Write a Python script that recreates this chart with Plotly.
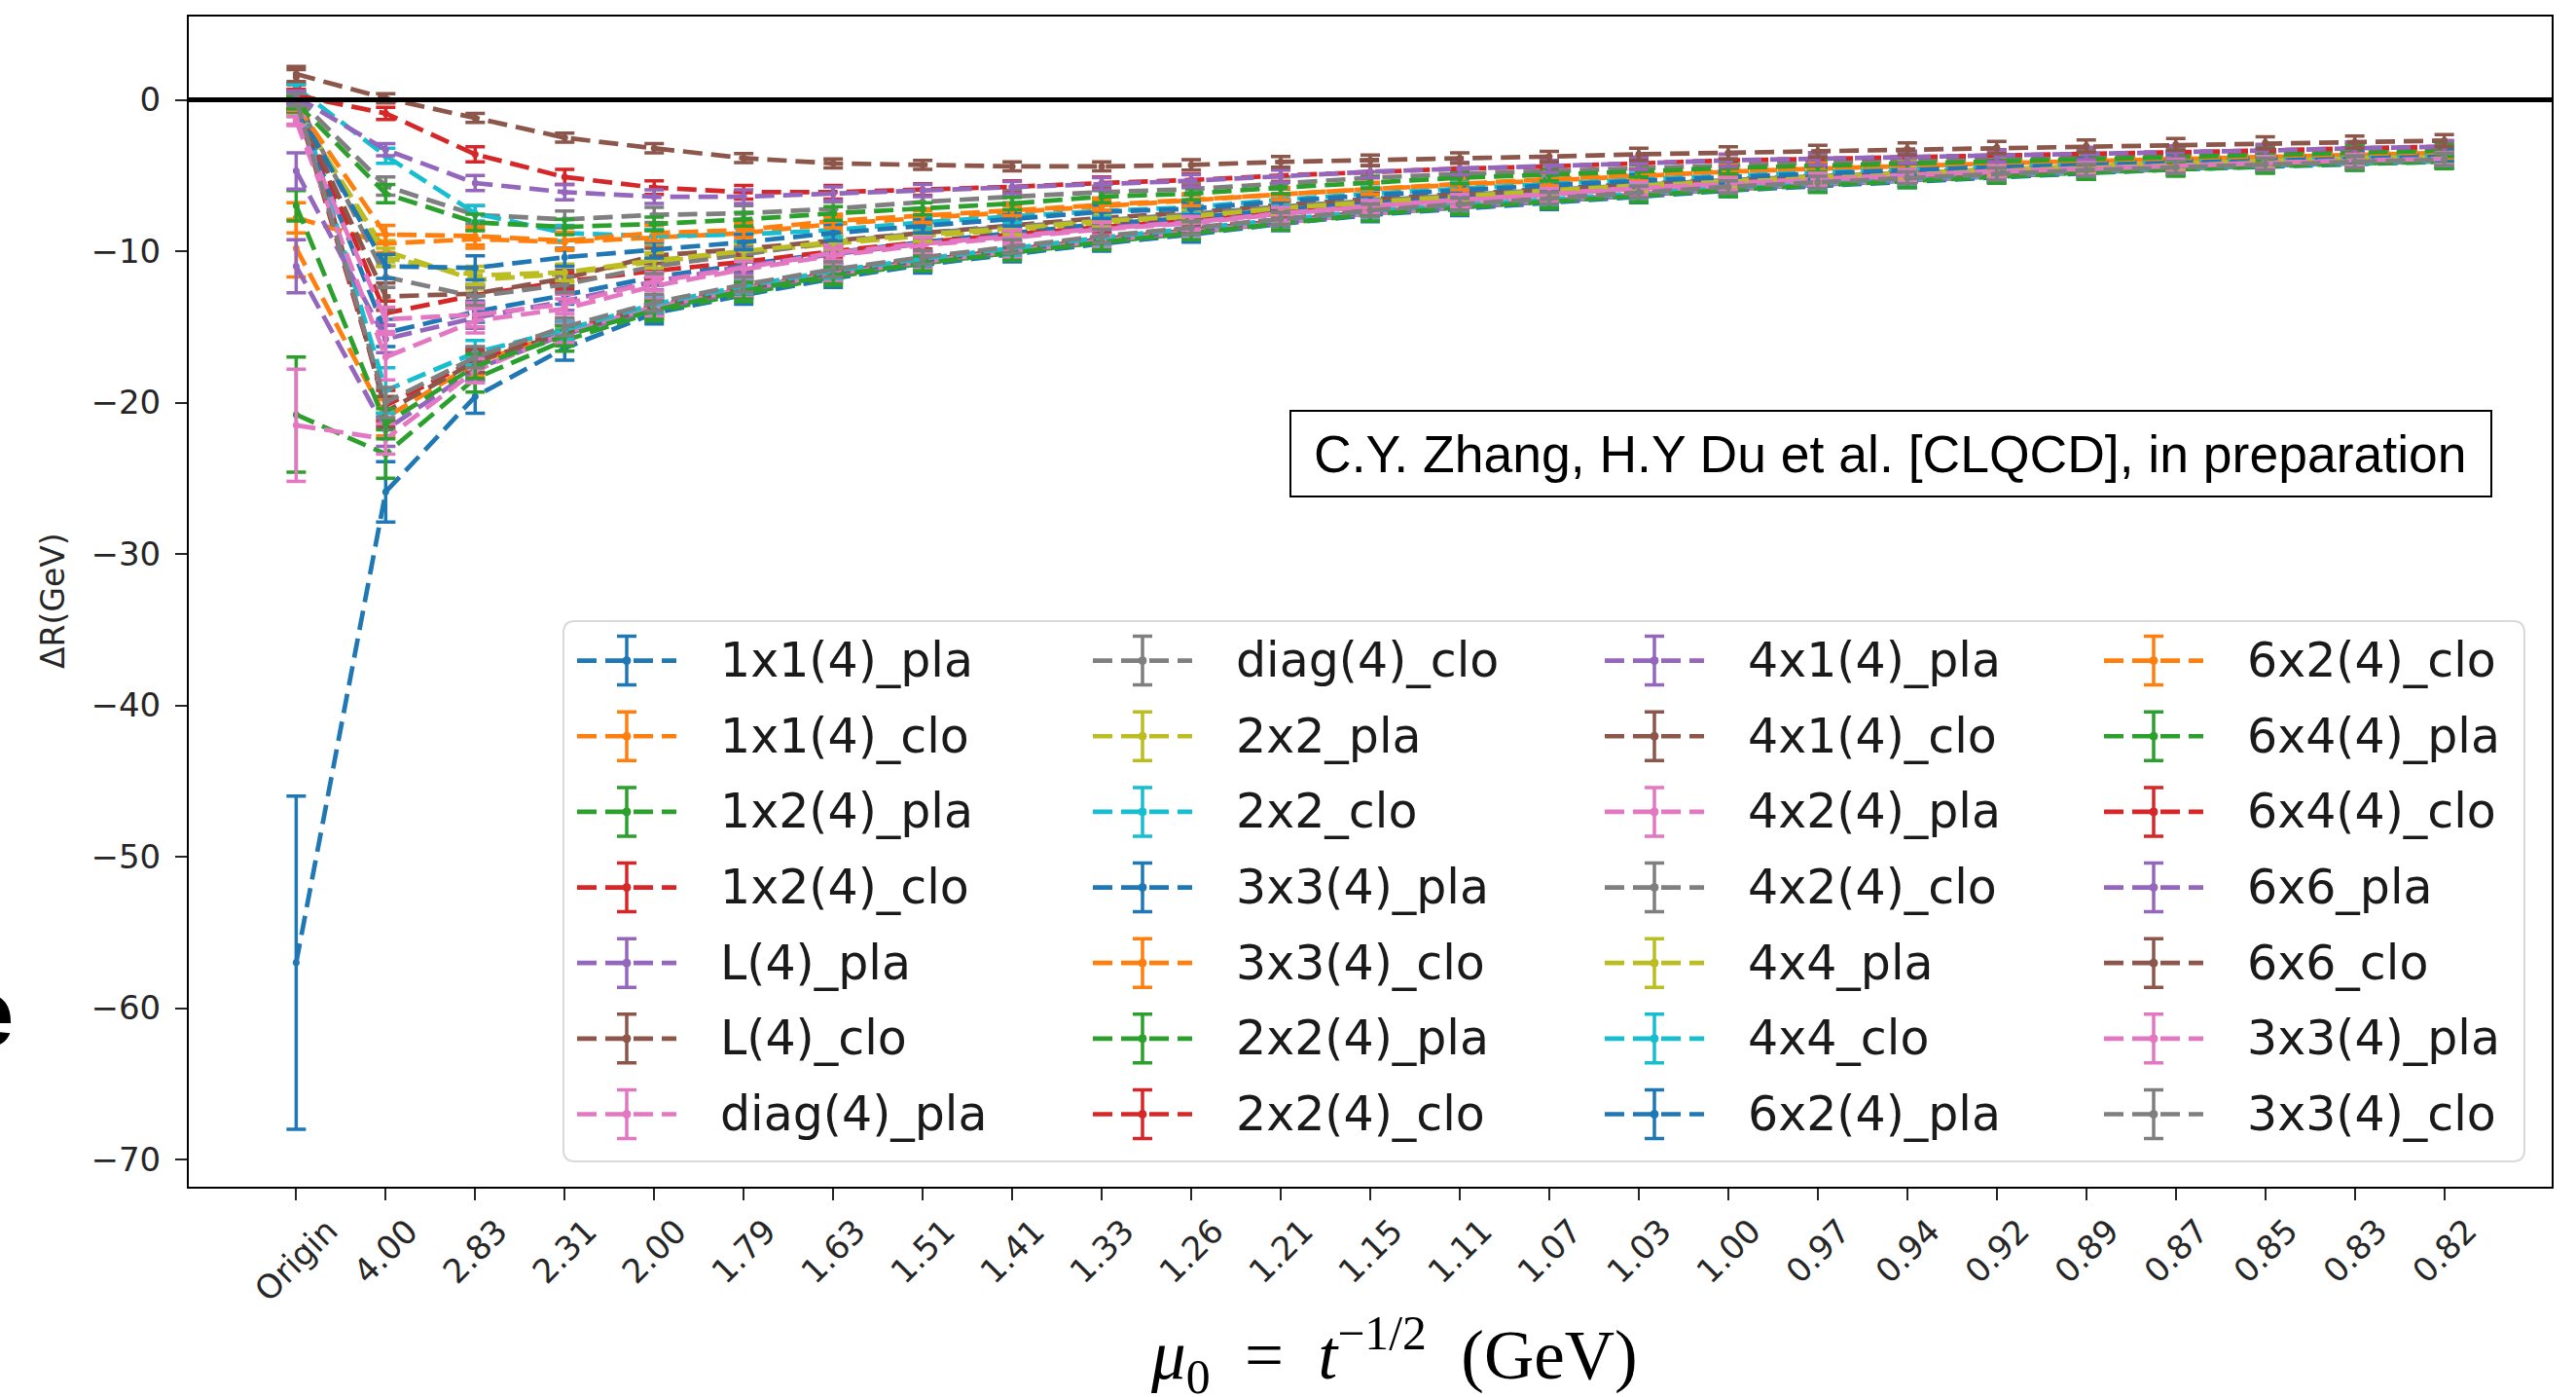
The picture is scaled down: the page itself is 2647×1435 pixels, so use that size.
import plotly.graph_objects as go

# ---------------------------------------------------------------- data
MU0_LABELS = ["Origin", "4.00", "2.83", "2.31", "2.00", "1.79", "1.63", "1.51",
              "1.41", "1.33", "1.26", "1.21", "1.15", "1.11", "1.07", "1.03",
              "1.00", "0.97", "0.94", "0.92", "0.89", "0.87", "0.85", "0.83", "0.82"]

SERIES_NAMES = ["1x1(4)_pla", "1x1(4)_clo", "1x2(4)_pla", "1x2(4)_clo", "L(4)_pla",
                "L(4)_clo", "diag(4)_pla", "diag(4)_clo", "2x2_pla", "2x2_clo",
                "3x3(4)_pla", "3x3(4)_clo", "2x2(4)_pla", "2x2(4)_clo", "4x1(4)_pla",
                "4x1(4)_clo", "4x2(4)_pla", "4x2(4)_clo", "4x4_pla", "4x4_clo",
                "6x2(4)_pla", "6x2(4)_clo", "6x4(4)_pla", "6x4(4)_clo", "6x6_pla",
                "6x6_clo", "3x3(4)_pla", "3x3(4)_clo"]

# Delta R (GeV) per flow scale, and its uncertainty
r_1x1_4_pla = [-57.0, -25.9, -19.6, -16.4, -14.1, -12.9, -11.8, -10.9, -10.2, -9.5, -8.9, -8.2, -7.6, -7.2, -6.8, -6.4, -6.0, -5.7, -5.4, -5.1, -4.85, -4.6, -4.4, -4.25, -4.1]
e_1x1_4_pla = [11.0, 2.0, 1.1, 0.8, 0.7, 0.6, 0.6, 0.55, 0.5, 0.5, 0.5, 0.45, 0.45, 0.45, 0.45, 0.4, 0.4, 0.4, 0.4, 0.4, 0.4, 0.4, 0.4, 0.4, 0.4]
r_1x1_4_clo = [-9.8, -21.0, -17.4, -15.3, -13.6, -12.4, -11.4, -10.6, -9.9, -9.2, -8.6, -8.0, -7.4, -7.0, -6.6, -6.2, -5.85, -5.55, -5.25, -5.0, -4.75, -4.5, -4.3, -4.15, -4.0]
e_1x1_4_clo = [1.9, 1.2, 0.8, 0.65, 0.6, 0.55, 0.5, 0.5, 0.45, 0.45, 0.45, 0.45, 0.4, 0.4, 0.4, 0.4, 0.4, 0.4, 0.4, 0.4, 0.4, 0.4, 0.4, 0.4, 0.4]
r_1x2_4_pla = [-20.8, -23.4, -18.4, -15.9, -14.0, -12.8, -11.7, -10.8, -10.1, -9.4, -8.8, -8.1, -7.5, -7.1, -6.7, -6.3, -5.9, -5.6, -5.3, -5.05, -4.8, -4.55, -4.35, -4.2, -4.05]
e_1x2_4_pla = [3.8, 1.6, 0.9, 0.7, 0.6, 0.55, 0.55, 0.5, 0.5, 0.5, 0.45, 0.45, 0.45, 0.45, 0.45, 0.45, 0.45, 0.45, 0.45, 0.45, 0.45, 0.45, 0.45, 0.45, 0.45]
r_1x2_4_clo = [-0.2, -20.2, -17.2, -15.2, -13.6, -12.4, -11.3, -10.5, -9.8, -9.1, -8.5, -7.9, -7.3, -6.9, -6.5, -6.1, -5.75, -5.45, -5.15, -4.9, -4.65, -4.45, -4.25, -4.1, -3.95]
e_1x2_4_clo = [0.4, 1.0, 0.8, 0.6, 0.55, 0.5, 0.5, 0.45, 0.45, 0.45, 0.4, 0.4, 0.4, 0.4, 0.4, 0.4, 0.4, 0.4, 0.4, 0.4, 0.4, 0.4, 0.4, 0.4, 0.4]
r_L4_pla = [-11.0, -21.8, -17.8, -15.5, -13.8, -12.6, -11.5, -10.7, -10.0, -9.3, -8.7, -8.1, -7.5, -7.1, -6.7, -6.3, -5.9, -5.6, -5.3, -5.0, -4.75, -4.5, -4.3, -4.15, -4.0]
e_L4_pla = [1.75, 1.1, 0.8, 0.65, 0.6, 0.55, 0.5, 0.5, 0.45, 0.45, 0.45, 0.45, 0.4, 0.4, 0.4, 0.4, 0.4, 0.4, 0.4, 0.4, 0.4, 0.4, 0.4, 0.4, 0.4]
r_L4_clo = [1.5, -20.6, -17.3, -15.4, -13.7, -12.5, -11.4, -10.6, -9.9, -9.2, -8.6, -8.0, -7.4, -7.0, -6.6, -6.2, -5.85, -5.5, -5.2, -4.95, -4.7, -4.45, -4.25, -4.1, -3.95]
e_L4_clo = [0.5, 1.0, 0.7, 0.6, 0.55, 0.5, 0.5, 0.45, 0.45, 0.45, 0.4, 0.4, 0.4, 0.4, 0.4, 0.4, 0.4, 0.4, 0.4, 0.4, 0.4, 0.4, 0.4, 0.4, 0.4]
r_diag4_pla = [-21.5, -22.4, -17.9, -15.4, -13.7, -12.5, -11.5, -10.7, -10.0, -9.3, -8.7, -8.1, -7.5, -7.0, -6.6, -6.2, -5.85, -5.55, -5.25, -5.0, -4.75, -4.5, -4.3, -4.15, -4.0]
e_diag4_pla = [3.7, 1.0, 0.8, 0.65, 0.6, 0.55, 0.5, 0.5, 0.45, 0.45, 0.45, 0.45, 0.4, 0.4, 0.4, 0.4, 0.4, 0.4, 0.4, 0.4, 0.4, 0.4, 0.4, 0.4, 0.4]
r_diag4_clo = [0.2, -5.7, -7.6, -7.9, -7.6, -7.5, -7.2, -6.75, -6.4, -6.1, -5.9, -5.5, -5.15, -4.9, -4.7, -4.5, -4.3, -4.15, -4.0, -3.9, -3.75, -3.6, -3.5, -3.35, -3.25]
e_diag4_clo = [0.4, 0.6, 0.6, 0.55, 0.5, 0.5, 0.45, 0.45, 0.4, 0.4, 0.4, 0.4, 0.4, 0.4, 0.4, 0.4, 0.4, 0.4, 0.4, 0.4, 0.4, 0.4, 0.4, 0.4, 0.4]
r_2x2_pla = [-0.6, -10.0, -11.9, -11.5, -10.7, -10.1, -9.5, -9.0, -8.6, -8.1, -7.75, -7.2, -6.8, -6.4, -6.0, -5.65, -5.35, -5.1, -4.85, -4.6, -4.4, -4.2, -4.0, -3.85, -3.75]
e_2x2_pla = [0.5, 0.7, 0.6, 0.55, 0.5, 0.5, 0.45, 0.45, 0.4, 0.4, 0.4, 0.4, 0.4, 0.4, 0.4, 0.4, 0.4, 0.4, 0.4, 0.4, 0.4, 0.4, 0.4, 0.4, 0.4]
r_2x2_clo = [0.75, -19.2, -16.7, -15.2, -13.5, -12.3, -11.3, -10.5, -9.8, -9.1, -8.5, -7.9, -7.35, -6.95, -6.55, -6.15, -5.8, -5.5, -5.2, -4.95, -4.7, -4.5, -4.3, -4.15, -4.0]
e_2x2_clo = [0.3, 1.5, 0.8, 0.6, 0.55, 0.5, 0.5, 0.45, 0.45, 0.45, 0.4, 0.4, 0.4, 0.4, 0.4, 0.4, 0.4, 0.4, 0.4, 0.4, 0.4, 0.4, 0.4, 0.4, 0.4]
r_3x3_4_pla_a = [-0.4, -15.4, -14.0, -12.9, -11.7, -10.9, -10.1, -9.4, -8.8, -8.2, -7.8, -7.25, -6.8, -6.4, -6.05, -5.7, -5.4, -5.15, -4.9, -4.65, -4.45, -4.25, -4.05, -3.9, -3.8]
e_3x3_4_pla_a = [0.4, 0.9, 0.7, 0.6, 0.55, 0.5, 0.5, 0.45, 0.45, 0.45, 0.4, 0.4, 0.4, 0.4, 0.4, 0.4, 0.4, 0.4, 0.4, 0.4, 0.4, 0.4, 0.4, 0.4, 0.4]
r_3x3_4_clo_a = [-7.8, -9.5, -9.2, -9.4, -9.1, -8.8, -8.2, -7.8, -7.4, -7.0, -6.65, -6.25, -5.9, -5.6, -5.3, -5.0, -4.75, -4.55, -4.35, -4.2, -4.05, -3.9, -3.75, -3.6, -3.5]
e_3x3_4_clo_a = [1.0, 0.6, 0.6, 0.55, 0.5, 0.5, 0.45, 0.45, 0.4, 0.4, 0.4, 0.4, 0.4, 0.4, 0.4, 0.4, 0.4, 0.4, 0.4, 0.4, 0.4, 0.4, 0.4, 0.4, 0.4]
r_2x2_4_pla = [-7.0, -21.4, -17.6, -15.6, -13.9, -12.6, -11.6, -10.8, -10.1, -9.4, -8.8, -8.15, -7.55, -7.1, -6.7, -6.3, -5.95, -5.65, -5.35, -5.05, -4.8, -4.6, -4.4, -4.2, -4.1]
e_2x2_4_pla = [1.0, 1.0, 0.8, 0.65, 0.6, 0.55, 0.55, 0.5, 0.5, 0.5, 0.45, 0.45, 0.45, 0.45, 0.45, 0.45, 0.45, 0.45, 0.45, 0.45, 0.45, 0.45, 0.45, 0.45, 0.45]
r_2x2_4_clo = [-0.2, -14.1, -12.9, -12.0, -11.3, -10.7, -10.0, -9.4, -8.9, -8.4, -8.0, -7.45, -6.95, -6.6, -6.2, -5.85, -5.5, -5.25, -5.0, -4.75, -4.5, -4.3, -4.1, -3.95, -3.85]
e_2x2_4_clo = [0.4, 0.8, 0.6, 0.55, 0.5, 0.5, 0.45, 0.45, 0.4, 0.4, 0.4, 0.4, 0.4, 0.4, 0.4, 0.4, 0.4, 0.4, 0.4, 0.4, 0.4, 0.4, 0.4, 0.4, 0.4]
r_4x1_4_pla = [-4.7, -15.8, -14.4, -13.3, -12.0, -11.0, -10.2, -9.5, -9.0, -8.45, -8.05, -7.5, -7.0, -6.6, -6.2, -5.85, -5.5, -5.25, -4.95, -4.7, -4.5, -4.3, -4.1, -3.95, -3.85]
e_4x1_4_pla = [1.2, 0.9, 0.7, 0.6, 0.55, 0.5, 0.5, 0.45, 0.45, 0.45, 0.4, 0.4, 0.4, 0.4, 0.4, 0.4, 0.4, 0.4, 0.4, 0.4, 0.4, 0.4, 0.4, 0.4, 0.4]
r_4x1_4_clo = [-0.3, -13.0, -12.8, -11.8, -10.3, -9.85, -9.3, -8.8, -8.3, -7.8, -7.45, -6.95, -6.55, -6.2, -5.85, -5.55, -5.25, -5.0, -4.75, -4.55, -4.35, -4.15, -3.95, -3.8, -3.7]
e_4x1_4_clo = [0.4, 0.9, 0.6, 0.55, 0.5, 0.5, 0.45, 0.45, 0.4, 0.4, 0.4, 0.4, 0.4, 0.4, 0.4, 0.4, 0.4, 0.4, 0.4, 0.4, 0.4, 0.4, 0.4, 0.4, 0.4]
r_4x2_4_pla = [-1.3, -14.5, -14.2, -13.5, -12.0, -11.1, -10.1, -9.5, -9.0, -8.5, -8.1, -7.5, -7.0, -6.6, -6.2, -5.8, -5.5, -5.2, -4.95, -4.7, -4.5, -4.3, -4.1, -3.95, -3.85]
e_4x2_4_pla = [0.3, 0.8, 0.8, 0.65, 0.6, 0.55, 0.5, 0.5, 0.45, 0.45, 0.45, 0.45, 0.4, 0.4, 0.4, 0.4, 0.4, 0.4, 0.4, 0.4, 0.4, 0.4, 0.4, 0.4, 0.4]
r_4x2_4_clo = [0.1, -11.7, -13.0, -12.2, -11.0, -10.2, -9.4, -8.8, -8.4, -7.95, -7.55, -7.05, -6.65, -6.3, -5.95, -5.6, -5.3, -5.05, -4.8, -4.6, -4.4, -4.2, -4.0, -3.85, -3.75]
e_4x2_4_clo = [0.4, 0.7, 0.6, 0.55, 0.5, 0.5, 0.45, 0.45, 0.4, 0.4, 0.4, 0.4, 0.4, 0.4, 0.4, 0.4, 0.4, 0.4, 0.4, 0.4, 0.4, 0.4, 0.4, 0.4, 0.4]
r_4x4_pla = [-0.5, -10.4, -11.6, -11.4, -10.6, -10.0, -9.4, -8.9, -8.5, -8.0, -7.7, -7.15, -6.75, -6.35, -6.0, -5.65, -5.35, -5.1, -4.85, -4.6, -4.4, -4.2, -4.0, -3.85, -3.75]
e_4x4_pla = [0.5, 0.6, 0.6, 0.55, 0.5, 0.5, 0.45, 0.45, 0.4, 0.4, 0.4, 0.4, 0.4, 0.4, 0.4, 0.4, 0.4, 0.4, 0.4, 0.4, 0.4, 0.4, 0.4, 0.4, 0.4]
r_4x4_clo = [0.8, -3.7, -7.5, -8.8, -9.0, -8.9, -8.6, -8.1, -7.7, -7.35, -7.1, -6.6, -6.2, -5.85, -5.55, -5.25, -5.0, -4.75, -4.55, -4.35, -4.15, -3.95, -3.8, -3.7, -3.6]
e_4x4_clo = [0.3, 0.5, 0.5, 0.5, 0.45, 0.45, 0.45, 0.4, 0.4, 0.4, 0.4, 0.4, 0.4, 0.4, 0.4, 0.4, 0.4, 0.4, 0.4, 0.4, 0.4, 0.4, 0.4, 0.4, 0.4]
r_6x2_4_pla = [-0.4, -11.0, -11.1, -10.4, -9.9, -9.4, -8.8, -8.35, -7.9, -7.4, -7.2, -6.7, -6.3, -5.95, -5.65, -5.35, -5.1, -4.85, -4.6, -4.4, -4.2, -4.0, -3.85, -3.75, -3.65]
e_6x2_4_pla = [0.4, 0.8, 0.8, 0.6, 0.55, 0.5, 0.5, 0.45, 0.45, 0.45, 0.4, 0.4, 0.4, 0.4, 0.4, 0.4, 0.4, 0.4, 0.4, 0.4, 0.4, 0.4, 0.4, 0.4, 0.4]
r_6x2_4_clo = [-0.3, -8.9, -9.0, -9.3, -8.8, -8.6, -8.0, -7.65, -7.25, -6.9, -6.6, -6.2, -5.85, -5.55, -5.25, -4.95, -4.7, -4.5, -4.3, -4.15, -4.0, -3.85, -3.7, -3.55, -3.45]
e_6x2_4_clo = [0.4, 0.6, 0.6, 0.55, 0.5, 0.5, 0.45, 0.45, 0.4, 0.4, 0.4, 0.4, 0.4, 0.4, 0.4, 0.4, 0.4, 0.4, 0.4, 0.4, 0.4, 0.4, 0.4, 0.4, 0.4]
r_6x4_4_pla = [-0.2, -6.2, -8.1, -8.4, -8.2, -7.9, -7.5, -7.2, -6.85, -6.4, -6.2, -5.8, -5.45, -5.15, -4.95, -4.7, -4.5, -4.35, -4.2, -4.05, -3.9, -3.75, -3.6, -3.45, -3.35]
e_6x4_4_pla = [0.4, 0.6, 0.55, 0.5, 0.45, 0.45, 0.45, 0.4, 0.4, 0.4, 0.4, 0.4, 0.4, 0.4, 0.4, 0.4, 0.4, 0.4, 0.4, 0.4, 0.4, 0.4, 0.4, 0.4, 0.4]
r_6x4_4_clo = [0.3, -0.9, -3.6, -5.1, -5.8, -6.1, -6.1, -5.95, -5.75, -5.5, -5.3, -5.0, -4.75, -4.55, -4.4, -4.2, -4.0, -3.9, -3.8, -3.7, -3.55, -3.45, -3.35, -3.2, -3.1]
e_6x4_4_clo = [0.4, 0.4, 0.5, 0.5, 0.45, 0.45, 0.45, 0.4, 0.4, 0.4, 0.4, 0.4, 0.4, 0.4, 0.4, 0.4, 0.4, 0.4, 0.4, 0.4, 0.4, 0.4, 0.4, 0.4, 0.4]
r_6x6_pla = [0.2, -3.3, -5.5, -6.1, -6.4, -6.4, -6.2, -6.0, -5.8, -5.55, -5.35, -5.05, -4.75, -4.55, -4.4, -4.2, -4.0, -3.9, -3.8, -3.7, -3.55, -3.45, -3.35, -3.2, -3.1]
e_6x6_pla = [0.4, 0.4, 0.5, 0.5, 0.45, 0.45, 0.45, 0.4, 0.4, 0.4, 0.4, 0.4, 0.4, 0.4, 0.4, 0.4, 0.4, 0.4, 0.4, 0.4, 0.4, 0.4, 0.4, 0.4, 0.4]
r_6x6_clo = [1.7, 0.1, -1.2, -2.5, -3.2, -3.85, -4.2, -4.3, -4.4, -4.4, -4.3, -4.1, -4.0, -3.85, -3.75, -3.6, -3.5, -3.4, -3.25, -3.15, -3.05, -2.95, -2.85, -2.8, -2.7]
e_6x6_clo = [0.5, 0.3, 0.3, 0.3, 0.3, 0.3, 0.3, 0.3, 0.3, 0.3, 0.35, 0.35, 0.35, 0.35, 0.35, 0.4, 0.4, 0.4, 0.4, 0.4, 0.4, 0.4, 0.4, 0.4, 0.4]
r_3x3_4_pla_b = [-1.4, -17.0, -14.6, -13.8, -12.3, -11.2, -10.3, -9.6, -9.1, -8.55, -8.15, -7.55, -7.05, -6.65, -6.25, -5.85, -5.55, -5.25, -5.0, -4.75, -4.55, -4.35, -4.15, -4.0, -3.9]
e_3x3_4_pla_b = [0.3, 1.5, 0.8, 0.65, 0.6, 0.55, 0.5, 0.5, 0.45, 0.45, 0.45, 0.45, 0.4, 0.4, 0.4, 0.4, 0.4, 0.4, 0.4, 0.4, 0.4, 0.4, 0.4, 0.4, 0.4]
r_3x3_4_clo_b = [0.0, -20.0, -17.0, -15.0, -13.4, -12.2, -11.2, -10.4, -9.7, -9.0, -8.45, -7.85, -7.3, -6.9, -6.5, -6.1, -5.75, -5.45, -5.15, -4.9, -4.65, -4.45, -4.25, -4.1, -3.95]
e_3x3_4_clo_b = [0.4, 1.0, 0.7, 0.6, 0.55, 0.5, 0.5, 0.45, 0.45, 0.45, 0.4, 0.4, 0.4, 0.4, 0.4, 0.4, 0.4, 0.4, 0.4, 0.4, 0.4, 0.4, 0.4, 0.4, 0.4]

SERIES_VALUES = [r_1x1_4_pla, r_1x1_4_clo, r_1x2_4_pla, r_1x2_4_clo, r_L4_pla, r_L4_clo,
                 r_diag4_pla, r_diag4_clo, r_2x2_pla, r_2x2_clo, r_3x3_4_pla_a, r_3x3_4_clo_a,
                 r_2x2_4_pla, r_2x2_4_clo, r_4x1_4_pla, r_4x1_4_clo, r_4x2_4_pla, r_4x2_4_clo,
                 r_4x4_pla, r_4x4_clo, r_6x2_4_pla, r_6x2_4_clo, r_6x4_4_pla, r_6x4_4_clo,
                 r_6x6_pla, r_6x6_clo, r_3x3_4_pla_b, r_3x3_4_clo_b]
SERIES_ERRORS = [e_1x1_4_pla, e_1x1_4_clo, e_1x2_4_pla, e_1x2_4_clo, e_L4_pla, e_L4_clo,
                 e_diag4_pla, e_diag4_clo, e_2x2_pla, e_2x2_clo, e_3x3_4_pla_a, e_3x3_4_clo_a,
                 e_2x2_4_pla, e_2x2_4_clo, e_4x1_4_pla, e_4x1_4_clo, e_4x2_4_pla, e_4x2_4_clo,
                 e_4x4_pla, e_4x4_clo, e_6x2_4_pla, e_6x2_4_clo, e_6x4_4_pla, e_6x4_4_clo,
                 e_6x6_pla, e_6x6_clo, e_3x3_4_pla_b, e_3x3_4_clo_b]

Y_TICKS = [-70, -60, -50, -40, -30, -20, -10, 0]

# matplotlib default colour cycle
TAB10 = ["#1f77b4", "#ff7f0e", "#2ca02c", "#d62728", "#9467bd",
         "#8c564b", "#e377c2", "#7f7f7f", "#bcbd22", "#17becf"]

# ---------------------------------------------------------------- layout geometry
W, H = 2647, 1435
PL, PR, PT, PB = 194, 2622, 17, 1219          # plot-area edges in pixels
DASH = "20px,9px"
TICK_FONT = dict(family="DejaVu Sans", size=34, color="#262626")


def px(x):
    return (x - PL) / (PR - PL)


def py(y):
    return (PB - y) / (PB - PT)


fig = go.Figure()

for i, (name, vals, errs) in enumerate(zip(SERIES_NAMES, SERIES_VALUES, SERIES_ERRORS)):
    c = TAB10[i % 10]
    fig.add_trace(go.Scatter(
        x=MU0_LABELS, y=vals, name=name, mode="lines+markers",
        line=dict(color=c, width=4.7, dash=DASH),
        marker=dict(color=c, size=7),
        error_y=dict(type="data", array=errs, visible=True, color=c,
                     thickness=3.5, width=10),
        showlegend=False,
    ))

shapes = []
annotations = []

# horizontal reference line at zero
shapes.append(dict(type="line", xref="paper", yref="y", x0=0, x1=1, y0=0, y1=0,
                   line=dict(color="black", width=5), layer="above"))

# x tick labels, rotated and centred under each tick (category index positions)
for k, lab in enumerate(MU0_LABELS):
    annotations.append(dict(x=k, xref="x", y=0, yref="paper", yshift=-22,
                            text=lab, showarrow=False, textangle=-45,
                            xanchor="center", yanchor="top", font=TICK_FONT))

# axis titles
annotations.append(dict(x=px(54), y=py(617), xref="paper", yref="paper",
                        text="ΔR(GeV)", textangle=-90, showarrow=False,
                        xanchor="center", yanchor="middle",
                        font=dict(family="DejaVu Sans", size=33, color="#262626")))
annotations.append(dict(x=px(1432), y=py(1392), xref="paper", yref="paper",
                        text="<i>μ</i><sub>0</sub>\u00a0\u00a0=\u00a0\u00a0<i>t</i>"
                             "<sup>−1/2</sup>\u00a0\u00a0(GeV)",
                        showarrow=False, xanchor="center", yanchor="middle",
                        font=dict(family="Liberation Serif", size=71, color="black")))

# credit box
shapes.append(dict(type="rect", xref="paper", yref="paper",
                   x0=px(1326), x1=px(2560), y0=py(510), y1=py(422),
                   line=dict(color="black", width=2), fillcolor="white", layer="above"))
annotations.append(dict(x=px(1943), y=py(466), xref="paper", yref="paper",
                        text="C.Y. Zhang, H.Y Du et al. [CLQCD], in preparation",
                        showarrow=False, xanchor="center", yanchor="middle",
                        font=dict(family="Liberation Sans", size=53.5, color="black")))

# legend frame (rounded)
lx0, lx1, ly0, ly1, rad = 579, 2594, 638, 1193, 12
frame = (f"M {px(lx0 + rad)},{py(ly0)} L {px(lx1 - rad)},{py(ly0)} "
         f"Q {px(lx1)},{py(ly0)} {px(lx1)},{py(ly0 + rad)} "
         f"L {px(lx1)},{py(ly1 - rad)} Q {px(lx1)},{py(ly1)} {px(lx1 - rad)},{py(ly1)} "
         f"L {px(lx0 + rad)},{py(ly1)} Q {px(lx0)},{py(ly1)} {px(lx0)},{py(ly1 - rad)} "
         f"L {px(lx0)},{py(ly0 + rad)} Q {px(lx0)},{py(ly0)} {px(lx0 + rad)},{py(ly0)} Z")
shapes.append(dict(type="path", xref="paper", yref="paper", path=frame,
                   line=dict(color="#d9d9d9", width=2), fillcolor="rgba(255,255,255,0.85)",
                   layer="above"))

# legend entries, column by column
COL_X = [593, 1123, 1649, 2162]
ROW_Y0, ROW_DY, ROWS = 678.6, 77.65, 7
HANDLE, TEXT_GAP = 102, 145
for i, name in enumerate(SERIES_NAMES):
    c = TAB10[i % 10]
    x0 = COL_X[i // ROWS]
    yc = ROW_Y0 + (i % ROWS) * ROW_DY
    xm = x0 + HANDLE / 2
    shapes.append(dict(type="line", xref="paper", yref="paper",
                       x0=px(x0), x1=px(x0 + HANDLE), y0=py(yc), y1=py(yc),
                       line=dict(color=c, width=4.7, dash=DASH), layer="above"))
    bar = (f"M {px(xm - 10)},{py(yc - 25)} L {px(xm + 10)},{py(yc - 25)} "
           f"M {px(xm)},{py(yc - 25)} L {px(xm)},{py(yc + 25)} "
           f"M {px(xm - 10)},{py(yc + 25)} L {px(xm + 10)},{py(yc + 25)}")
    shapes.append(dict(type="path", xref="paper", yref="paper", path=bar,
                       line=dict(color=c, width=3.5), layer="above"))
    shapes.append(dict(type="circle", xref="paper", yref="paper",
                       x0=px(xm - 4), x1=px(xm + 4), y0=py(yc + 4), y1=py(yc - 4),
                       line=dict(color=c, width=1), fillcolor=c, layer="above"))
    annotations.append(dict(x=px(x0 + TEXT_GAP), y=py(yc), xref="paper", yref="paper",
                            text=name, showarrow=False, xanchor="left", yanchor="middle",
                            font=dict(family="DejaVu Sans", size=49, color="#1a1a1a")))

# fragment of a large letter at the left page edge
annotations.append(dict(x=px(16), y=py(1040), xref="paper", yref="paper",
                        text="<b>e</b>", showarrow=False, xanchor="right", yanchor="middle",
                        font=dict(family="Liberation Sans", size=96, color="black")))

axis_common = dict(showgrid=False, zeroline=False, showline=True, linecolor="black",
                   linewidth=2, mirror=True, ticks="outside", ticklen=12, tickwidth=2,
                   tickcolor="#262626")

fig.update_layout(
    width=W, height=H,
    margin=dict(l=PL, r=W - PR, t=PT, b=H - PB),
    paper_bgcolor="white", plot_bgcolor="white",
    showlegend=False,
    xaxis=dict(type="category", range=[-1.2, 25.2], showticklabels=False, **axis_common),
    yaxis=dict(range=[-71.8, 5.5], tickmode="array", tickvals=Y_TICKS,
               tickfont=TICK_FONT, ticklabelstandoff=8, **axis_common),
    shapes=shapes,
    annotations=annotations,
)

fig.write_html("out.html")
